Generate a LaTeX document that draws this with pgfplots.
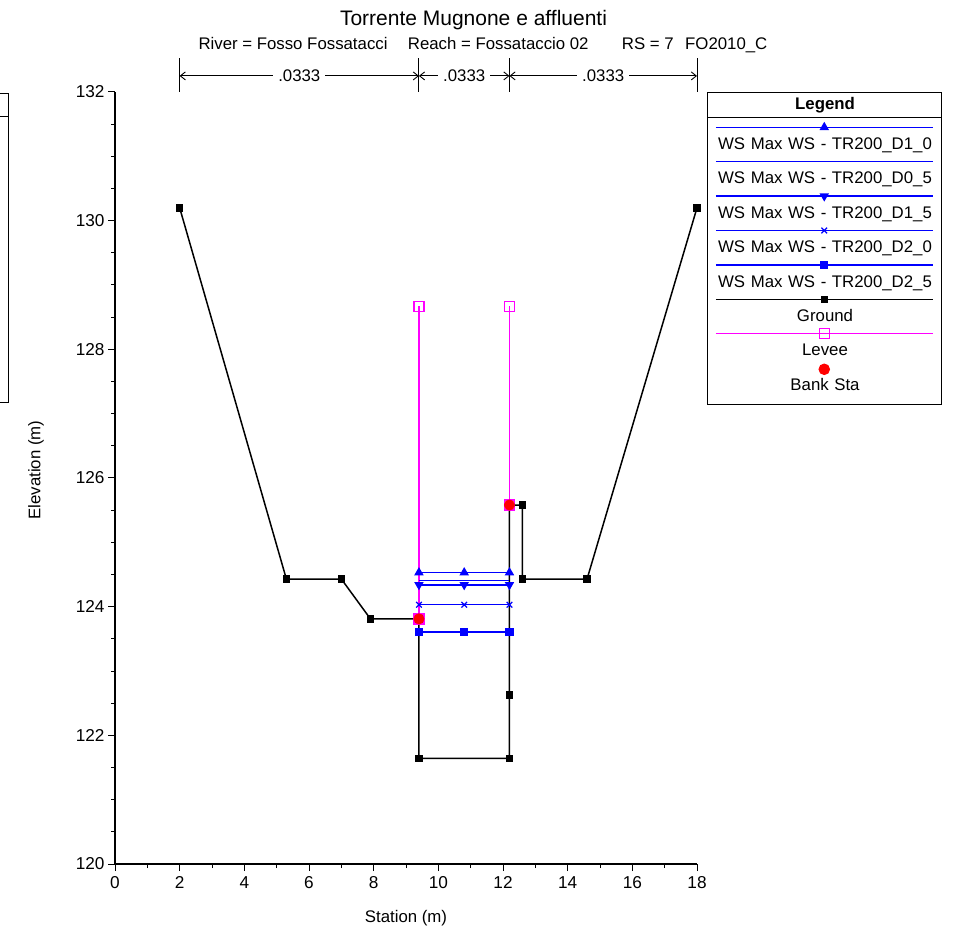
\documentclass[border=0pt]{standalone}
\usepackage{pgfplots}
\pgfplotsset{compat=1.18}
\usepackage{fontspec}
\setmainfont{Liberation Sans}
\usetikzlibrary{arrows.meta}

\definecolor{wsblue}{RGB}{0,0,255}
\definecolor{leveec}{RGB}{255,0,255}
\definecolor{bankc}{RGB}{255,0,0}

\pgfplotsset{
  heclegend/.style={legend image code/.code={
     \path (0pt,0pt);
     \draw[overlay,mark repeat=2,mark phase=2] plot coordinates {(0pt,22.2pt) (108.5pt,22.2pt) (217pt,22.2pt)};}},
}

\begin{document}
\begin{tikzpicture}[x=1pt,y=1pt]
\useasboundingbox (0,0) rectangle (963,932);

% cut-off box at the left edge
\draw[line width=0.9pt] (-5,839) -- (8,839) -- (8,530) -- (-5,530);
\draw[line width=0.9pt] (-5,816) -- (8,816);

% titles
\node[anchor=base, font=\fontsize{21}{24}\selectfont] at (473.5,906) {Torrente Mugnone e affluenti};
\begin{scope}[every node/.style={anchor=base west, inner sep=0pt, font=\fontsize{16.8}{20}\selectfont}]
\node at (198.3,882) {River = Fosso Fossatacci};
\node at (407.7,882) {Reach = Fossataccio 02};
\node at (621.7,882) {RS = 7};
\node at (685,882) {FO2010\_C};
\end{scope}
\node[rotate=90, font=\fontsize{16.8}{20}\selectfont] at (36,462) {Elevation (m)};
\node[font=\fontsize{16.8}{20}\selectfont] at (406,14) {Station (m)};

\begin{axis}[
  at={(115pt,68pt)}, anchor=south west,
  width=582pt, height=772pt, scale only axis,
  xmin=0, xmax=18, ymin=120, ymax=132,
  axis x line=bottom, axis y line=left,
  axis line style={-, black, line width=1.1pt},
  xtick={0,2,...,18}, minor x tick num=1,
  ytick={120,122,...,132}, minor y tick num=3,
  tick align=outside, major tick length=7pt, minor tick length=4pt,
  every tick/.style={black, line width=1pt},
  ticklabel style={font=\fontsize{17.2}{20}\selectfont},
  xticklabel style={yshift=-2pt},
  /pgf/number format/assume math mode=true,
  /pgf/number format/1000 sep={},
  clip=false,
  legend cell align=center,
  legend style={at={(1.0172,1)}, anchor=north west, draw=black, line width=0.9pt,
    fill=white, inner xsep=8pt, inner ysep=2pt, outer sep=0pt,
    column sep=0pt, row sep=0pt,
    font=\fontsize{16.8}{20}\selectfont,
    nodes={text width=217pt, align=center, inner sep=0pt, text height=26pt, text depth=8.4pt},
    cells={anchor=base}},
]
% legend header
\addlegendimage{legend image code/.code={\path (0pt,0pt); \draw[overlay, black, line width=0.9pt] (-8pt,-8pt) -- (226pt,-8pt);}}
\addlegendentry[text height=15.3pt, text depth=14.2pt]{\bfseries Legend}

% ground and levee (drawn first, legend later)
\addplot[black, line width=1.5pt, mark=square*, mark size=3pt, forget plot] coordinates {
 (2,130.2) (5.3,124.43) (7.0,124.43) (7.9,123.81) (9.4,123.81) (9.4,121.64)
 (12.2,121.64) (12.2,122.63) (12.2,125.58) (12.6,125.58) (12.6,124.43)
 (14.6,124.43) (18,130.2)};
\addplot[leveec, line width=1.5pt, mark=square, mark size=5pt, mark options={solid, line width=1.3pt}, forget plot] coordinates {
 (9.4,123.81) (9.4,128.67)};
\addplot[leveec, line width=1.5pt, mark=square, mark size=5pt, mark options={solid, line width=1.3pt}, forget plot] coordinates {
 (12.2,125.58) (12.2,128.67)};

% water surfaces
\addplot[wsblue, line width=1.5pt, mark=triangle*, mark size=4pt, heclegend] coordinates {
 (9.4,124.53) (10.8,124.53) (12.2,124.53)};
\addlegendentry{WS Max WS - TR200\_D1\_0}
\addplot[wsblue, line width=1.5pt, mark=none, heclegend] coordinates {
 (9.4,124.41) (10.8,124.41) (12.2,124.41)};
\addlegendentry{WS Max WS - TR200\_D0\_5}
\addplot[wsblue, line width=1.5pt, mark=triangle*, mark size=4pt, mark options={rotate=180}, heclegend] coordinates {
 (9.4,124.34) (10.8,124.34) (12.2,124.34)};
\addlegendentry{WS Max WS - TR200\_D1\_5}
\addplot[wsblue, line width=1.5pt, mark=x, mark size=4pt, mark options={line width=1.2pt}, heclegend] coordinates {
 (9.4,124.03) (10.8,124.03) (12.2,124.03)};
\addlegendentry{WS Max WS - TR200\_D2\_0}
\addplot[wsblue, line width=1.5pt, mark=square*, mark size=3.4pt, heclegend] coordinates {
 (9.4,123.61) (10.8,123.61) (12.2,123.61)};
\addlegendentry{WS Max WS - TR200\_D2\_5}

\addlegendimage{black, line width=1.5pt, mark=square*, mark size=3pt, heclegend}
\addlegendentry{Ground}
\addlegendimage{leveec, line width=1.5pt, mark=square, mark size=5pt, mark options={solid, line width=1.3pt}, heclegend}
\addlegendentry{Levee}

\addplot[only marks, bankc, mark=*, mark size=5.3pt,
  legend image code/.code={\path (0pt,0pt); \draw[overlay] plot[only marks] coordinates {(108.5pt,21pt)};}] coordinates {
 (9.4,123.81) (12.2,125.58)};
\addlegendentry[text depth=11.7pt]{Bank Sta}

% Manning's n annotation
\draw[line width=1pt] (axis cs:2,132) -- (axis cs:2,132.53);
\draw[line width=1pt] (axis cs:9.4,132) -- (axis cs:9.4,132.53);
\draw[line width=1pt] (axis cs:12.2,132) -- (axis cs:12.2,132.53);
\draw[line width=1pt] (axis cs:18,132) -- (axis cs:18,132.53);
\begin{scope}[every node/.style={fill=white, inner xsep=5pt, inner ysep=1pt, font=\fontsize{16.8}{20}\selectfont}]
\draw[line width=0.9pt, {Straight Barb[length=5pt,width=8pt]}-{Straight Barb[length=5pt,width=8pt]}]
  (axis cs:2,132.25) -- node{.0333} (axis cs:9.4,132.25);
\draw[line width=0.9pt, {Straight Barb[length=5pt,width=8pt]}-{Straight Barb[length=5pt,width=8pt]}]
  (axis cs:9.4,132.25) -- node{.0333} (axis cs:12.2,132.25);
\draw[line width=0.9pt, {Straight Barb[length=5pt,width=8pt]}-{Straight Barb[length=5pt,width=8pt]}]
  (axis cs:12.2,132.25) -- node{.0333} (axis cs:18,132.25);
\end{scope}
\end{axis}
\end{tikzpicture}
\end{document}
